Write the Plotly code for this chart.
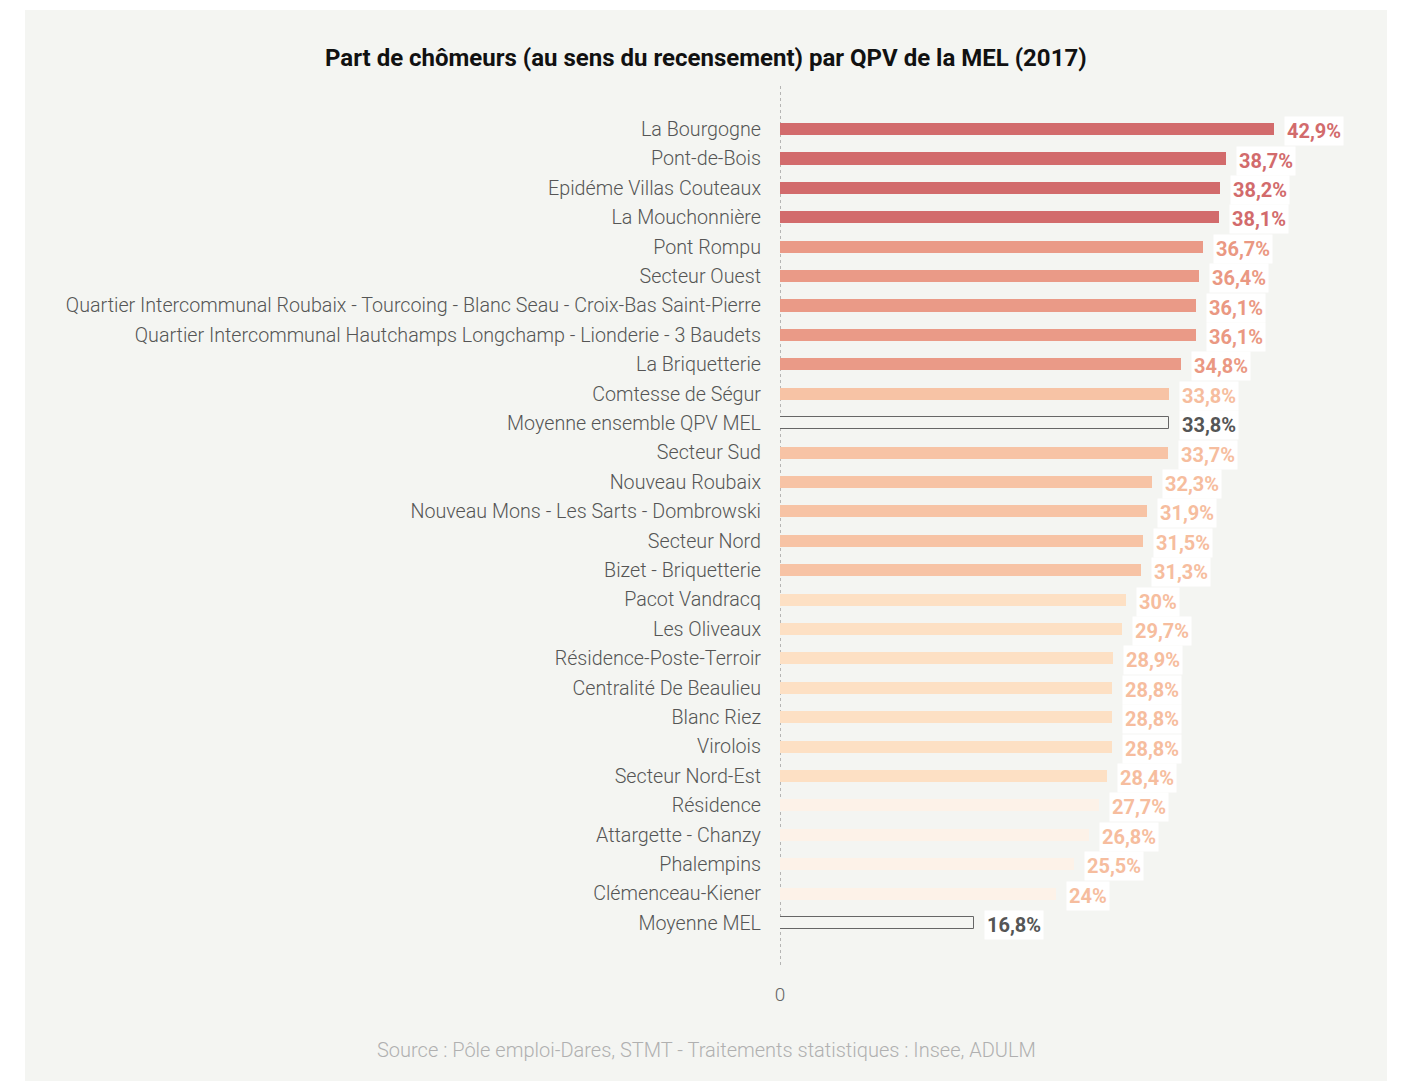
import plotly.graph_objects as go

names = ["La Bourgogne", "Pont-de-Bois", "Epidéme Villas Couteaux", "La Mouchonnière",
         "Pont Rompu", "Secteur Ouest",
         "Quartier Intercommunal Roubaix - Tourcoing - Blanc Seau - Croix-Bas Saint-Pierre",
         "Quartier Intercommunal Hautchamps Longchamp - Lionderie - 3 Baudets",
         "La Briquetterie", "Comtesse de Ségur", "Moyenne ensemble QPV MEL", "Secteur Sud",
         "Nouveau Roubaix", "Nouveau Mons - Les Sarts - Dombrowski", "Secteur Nord",
         "Bizet - Briquetterie", "Pacot Vandracq", "Les Oliveaux", "Résidence-Poste-Terroir",
         "Centralité De Beaulieu", "Blanc Riez", "Virolois", "Secteur Nord-Est", "Résidence",
         "Attargette - Chanzy", "Phalempins", "Clémenceau-Kiener", "Moyenne MEL"]
values = [42.9, 38.7, 38.2, 38.1, 36.7, 36.4, 36.1, 36.1, 34.8, 33.8, 33.8, 33.7,
          32.3, 31.9, 31.5, 31.3, 30.0, 29.7, 28.9, 28.8, 28.8, 28.8, 28.4, 27.7,
          26.8, 25.5, 24.0, 16.8]
groups = [1, 1, 1, 1, 2, 2, 2, 2, 2, 3, 0, 3, 3, 3, 3, 3, 4, 4, 4, 4, 4, 4, 4,
          5, 5, 5, 5, 0]

BG = "#f4f5f2"
bar_colors = {0: BG, 1: "#d26b6c", 2: "#ea9a87", 3: "#f7c3a5", 4: "#fde0c4", 5: "#fdf2e8"}
text_colors = {0: "#555555", 1: "#d26b6c", 2: "#ea9882", 3: "#f6bd9e", 4: "#f6bd9e", 5: "#f6bd9e"}

def fmt(v):
    s = ("%.1f" % v).rstrip("0").rstrip(".")
    return s.replace(".", ",") + "%"

idx = list(range(len(names)))

fig = go.Figure()
fig.add_trace(go.Bar(
    x=values, y=idx, orientation="h", width=0.41,
    marker=dict(color=[bar_colors[g] for g in groups],
                line=dict(color=["#666666" if g == 0 else "rgba(0,0,0,0)" for g in groups],
                          width=[1 if g == 0 else 0 for g in groups])),
    hoverinfo="skip",
))

annotations = []
for i, (v, g) in enumerate(zip(values, groups)):
    annotations.append(dict(
        x=v, y=i, xref="x", yref="y", text="<b>" + fmt(v) + "</b>", showarrow=False,
        xanchor="left", yanchor="middle", xshift=10, yshift=-2,
        font=dict(family="Roboto", size=20, color=text_colors[g]),
        bgcolor="white", borderpad=2,
    ))

L, R, T, B = 780, 45, 85, 116
W, H = 1401, 1081
pw, ph = W - L - R, H - T - B

def px(xp):
    return (xp - L) / pw

def py(yp):
    return (H - B - yp) / ph

annotations.append(dict(
    x=px(706), y=py(58), xref="paper", yref="paper", xanchor="center", yanchor="middle",
    text="<b>Part de chômeurs (au sens du recensement) par QPV de la MEL (2017)</b>",
    showarrow=False, font=dict(family="Roboto", size=24, color="#111111")))
annotations.append(dict(
    x=px(706), y=py(1050), xref="paper", yref="paper", xanchor="center", yanchor="middle",
    text="Source : Pôle emploi-Dares, STMT - Traitements statistiques : Insee, ADULM",
    showarrow=False, font=dict(family="Roboto", size=20, color="#b0b0b0", weight=300)))

fig.update_layout(
    width=W, height=H,
    margin=dict(l=L, r=R, t=T, b=B, pad=0),
    paper_bgcolor="white", plot_bgcolor=BG,
    showlegend=False,
    annotations=annotations,
    shapes=[dict(type="rect", xref="paper", yref="paper", layer="below",
                 x0=px(25), x1=px(1387), y0=py(1081), y1=py(10),
                 fillcolor=BG, line=dict(width=0)),
            dict(type="line", xref="x", yref="paper", layer="below",
                 x0=0, x1=0, y0=0, y1=1,
                 line=dict(color="#777777", width=1, dash="dot"))],
    xaxis=dict(range=[0, 50], tickvals=[0], ticktext=["0"], showgrid=False,
               zeroline=False, showline=False, ticks="", ticklabelstandoff=16,
               tickfont=dict(family="Roboto", size=19, color="#666666", weight=300),
               fixedrange=True),
    yaxis=dict(range=[28.43, -1.5], tickvals=idx, ticktext=names, showgrid=False,
               zeroline=False, showline=False, ticks="", ticklabelstandoff=18,
               tickfont=dict(family="Roboto", size=19.7, color="#555555", weight=300),
               fixedrange=True),
    bargap=0,
)

fig.write_html("out.html", config={"displayModeBar": False},
               post_script="document.body.style.margin='0px';document.body.style.overflow='hidden';")
